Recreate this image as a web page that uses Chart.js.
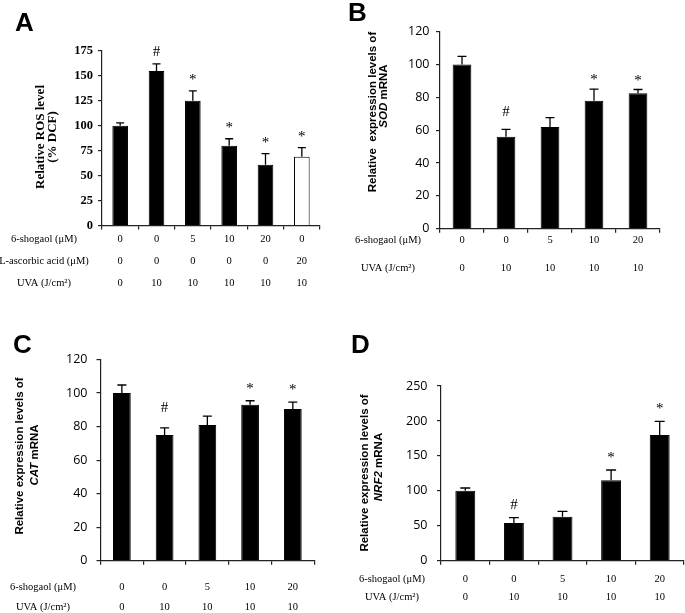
<!DOCTYPE html>
<html>
<head>
<meta charset="utf-8">
<script src="https://cdn.jsdelivr.net/npm/chart.js@4.4.1/dist/chart.umd.min.js"></script>
<style>
  html, body { margin: 0; padding: 0; background: #fff; }
  #fig { position: relative; width: 685px; height: 613px; }
  canvas { position: absolute; }
</style>
</head>
<body>
<div id="fig">
  <canvas id="panelA" width="340" height="300" style="left:0;top:0"></canvas>
  <canvas id="panelB" width="345" height="300" style="left:340px;top:0"></canvas>
  <canvas id="panelC" width="340" height="313" style="left:0;top:300px"></canvas>
  <canvas id="panelD" width="345" height="313" style="left:340px;top:300px"></canvas>
</div>
<script>
// treatment rows under the bars
const shogaolA = ["0", "0", "5", "10", "20", "0"]
const ascorbicA = ["0", "0", "0", "0", "0", "20"]
const uvaA = ["0", "10", "10", "10", "10", "10"]
const shogaol = ["0", "0", "5", "10", "20"]
const uva = ["0", "10", "10", "10", "10"]

// A - ROS level (% DCF)
const rosMean = [100, 155, 125, 80, 61, 69]
const rosErr = [3, 7, 10, 7, 11, 9]
const rosSig = ["", "#", "*", "*", "*", "*"]
const rosTicks = [0, 25, 50, 75, 100, 125, 150, 175]

// B - SOD mRNA
const sodMean = [100, 56, 62, 78, 82.5]
const sodErr = [5, 4.5, 5.7, 7, 2.3]
const sodSig = ["", "#", "", "*", "*"]
const sodTicks = [0, 20, 40, 60, 80, 100, 120]

// C - CAT mRNA
const catMean = [100, 75, 81, 93, 90.5]
const catErr = [4.8, 4.2, 5.2, 2.4, 4.1]
const catSig = ["", "#", "", "*", "*"]
const catTicks = [0, 20, 40, 60, 80, 100, 120]

// D - NRF2 mRNA
const nrfMean = [100, 54, 63, 115, 180]
const nrfErr = [4, 7.6, 7.6, 14.8, 19.5]
const nrfSig = ["", "#", "", "*", "*"]
const nrfTicks = [0, 50, 100, 150, 200, 250]

const SERIF = "'Liberation Serif', 'Times New Roman', serif"
const SANS = "'Liberation Sans', Arial, sans-serif"
const AXIS = "#222"
const ROW_SIZE = 10.5
const MARK_SIZE = 15

// error bars, significance marks, y titles, row headers, panel letter
const panelPlugin = {
  id: "panel",
  afterDatasetsDraw(chart, args, o) {
    const ctx = chart.ctx
    const ys = chart.scales.y
    const meta = chart.getDatasetMeta(0)
    ctx.save()
    ctx.strokeStyle = "#000"
    ctx.lineWidth = 1.3
    meta.data.forEach((bar, i) => {
      const top = ys.getPixelForValue(o.mean[i] + o.err[i])
      ctx.beginPath()
      ctx.moveTo(bar.x, bar.y)
      ctx.lineTo(bar.x, top)
      ctx.moveTo(bar.x - o.cap / 2, top)
      ctx.lineTo(bar.x + o.cap / 2, top)
      ctx.stroke()
      const s = o.sig[i]
      if (s) {
        ctx.fillStyle = "#000"
        ctx.font = MARK_SIZE + "px " + SERIF
        ctx.textAlign = "center"
        ctx.textBaseline = "alphabetic"
        const c = top - o.gap[s]
        ctx.fillText(s, bar.x, c + (s === "*" ? 0.47 : 0.33) * MARK_SIZE)
      }
    })
    ctx.restore()
  },
  afterDraw(chart, args, o) {
    const ctx = chart.ctx
    const xs = chart.scales.x
    ctx.save()
    ctx.fillStyle = "#000"

    // rotated y titles
    ctx.textBaseline = "middle"
    ctx.textAlign = "left"
    o.titles.forEach(t => {
      ctx.save()
      ctx.translate(t.x, t.y)
      ctx.rotate(-Math.PI / 2)
      let total = 0
      t.parts.forEach(p => {
        ctx.font = p[1] + t.font
        total += ctx.measureText(p[0]).width
      })
      let x = -total / 2
      t.parts.forEach(p => {
        ctx.font = p[1] + t.font
        ctx.fillText(p[0], x, 0)
        x += ctx.measureText(p[0]).width
      })
      ctx.restore()
    })

    // row headers, lined up with the multi-line tick labels
    ctx.font = ROW_SIZE + "px " + SERIF
    ctx.textAlign = "center"
    const lh = ROW_SIZE * o.lineH
    const base = xs.top + 4 + o.xPad
    o.rows.forEach((r, i) => {
      ctx.fillText(r, o.rowX, base + lh * (i + 0.5))
    })

    // panel letter
    ctx.font = "bold 26px " + SANS
    ctx.textAlign = "left"
    ctx.textBaseline = "alphabetic"
    ctx.fillText(o.letter, o.letterX, o.letterY)
    ctx.restore()
  }
}

function makePanel(id, o) {
  return new Chart(document.getElementById(id), {
    type: "bar",
    data: {
      labels: o.labels,
      datasets: [
        {
          data: o.mean,
          backgroundColor: o.colors,
          borderColor: "#000",
          borderWidth: 1,
          barPercentage: o.barPct,
          categoryPercentage: 1,
        },
      ],
    },
    options: {
      responsive: false,
      animation: false,
      layout: { padding: { top: o.padTop, right: o.padRight, left: 0, bottom: 0 } },
      plugins: {
        legend: { display: false },
        tooltip: { enabled: false },
        panel: o,
      },
      scales: {
        x: {
          grid: { offset: true, drawOnChartArea: false, tickLength: 4, color: AXIS, lineWidth: 1.2 },
          border: { color: AXIS, width: 1.2 },
          ticks: {
            color: "#000",
            font: { family: SERIF, size: ROW_SIZE, lineHeight: o.lineH },
            padding: o.xPad,
            maxRotation: 0,
            autoSkip: false,
          },
          afterFit: s => { s.height = o.xHeight },
        },
        y: {
          min: o.ticks[0],
          max: o.ticks[o.ticks.length - 1],
          grid: { drawOnChartArea: false, tickLength: 4, color: AXIS, lineWidth: 1.2 },
          border: { color: AXIS, width: 1.2 },
          ticks: { color: "#000", font: o.yFont, padding: o.yPad },
          afterBuildTicks: s => { s.ticks = o.ticks.map(v => ({ value: v })) },
          afterFit: s => { s.width = o.yWidth },
        },
      },
    },
    plugins: [panelPlugin],
  })
}

const rowsAB = ["6-shogaol (\u03bcM)", "UVA (J/cm\u00b2)"]
const sansTick = { family: "'Open Sans', sans-serif", size: 12.5 }
const sansTitle = "bold 11.5px " + SANS

// line heights are multiples of ROW_SIZE
makePanel("panelA", {
  labels: shogaolA.map((v, i) => [v, ascorbicA[i], uvaA[i]]),
  mean: rosMean, err: rosErr, sig: rosSig, ticks: rosTicks,
  colors: ["#000", "#000", "#000", "#000", "#000", "#fff"],
  padTop: 51, padRight: 20, yWidth: 102, xHeight: 74.5,
  yFont: { family: SERIF, size: 12.5, weight: "bold" }, yPad: 5,
  lineH: 2.1, xPad: -1.5, barPct: 0.43, cap: 8,
  gap: { "#": 13, "*": 13.5 },
  titles: [
    { x: 41, y: 137, font: "bold 13px " + SERIF, parts: [["Relative ROS level", ""]] },
    { x: 53, y: 137, font: "bold 13px " + SERIF, parts: [["(% DCF)", ""]] },
  ],
  rows: ["6-shogaol (\u03bcM)", "L-ascorbic acid (\u03bcM)", "UVA (J/cm\u00b2)"], rowX: 44,
  letter: "A", letterX: 15, letterY: 31,
})

makePanel("panelB", {
  labels: shogaol.map((v, i) => [v, uva[i]]),
  mean: sodMean, err: sodErr, sig: sodSig, ticks: sodTicks,
  colors: "#000",
  padTop: 31.7, padRight: 25, yWidth: 100, xHeight: 71.3,
  yFont: sansTick, yPad: 6.5,
  lineH: 2.67, xPad: -6.7, barPct: 0.425, cap: 9,
  gap: { "#": 18.7, "*": 12 },
  titles: [
    { x: 33, y: 112, font: sansTitle, parts: [["Relative  expression levels of", ""]] },
    { x: 44, y: 96, font: sansTitle, parts: [["SOD", "italic "], [" mRNA", ""]] },
  ],
  rows: rowsAB, rowX: 48,
  letter: "B", letterX: 8, letterY: 21,
})

makePanel("panelC", {
  labels: shogaol.map((v, i) => [v, uva[i]]),
  mean: catMean, err: catErr, sig: catSig, ticks: catTicks,
  colors: "#000",
  padTop: 59.5, padRight: 25.8, yWidth: 100.5, xHeight: 52.3,
  yFont: sansTick, yPad: 9,
  lineH: 1.9, xPad: 12.3, barPct: 0.415, cap: 9,
  gap: { "#": 21, "*": 15 },
  titles: [
    { x: 20, y: 156, font: sansTitle, parts: [["Relative expression levels of", ""]] },
    { x: 35, y: 155, font: sansTitle, parts: [["CAT", "italic "], [" mRNA", ""]] },
  ],
  rows: rowsAB, rowX: 43,
  letter: "C", letterX: 13, letterY: 53,
})

makePanel("panelD", {
  labels: shogaol.map((v, i) => [v, uva[i]]),
  mean: nrfMean, err: nrfErr, sig: nrfSig, ticks: nrfTicks,
  colors: "#000",
  padTop: 86, padRight: 1, yWidth: 101, xHeight: 52.3,
  yFont: sansTick, yPad: 9.5,
  lineH: 1.69, xPad: 5.5, barPct: 0.41, cap: 10,
  gap: { "#": 14, "*": 15 },
  titles: [
    { x: 25, y: 173, font: sansTitle, parts: [["Relative expression levels of", ""]] },
    { x: 39, y: 167, font: sansTitle, parts: [["NRF2", "italic "], [" mRNA", ""]] },
  ],
  rows: rowsAB, rowX: 52,
  letter: "D", letterX: 11, letterY: 53,
})
</script>
</body>
</html>
